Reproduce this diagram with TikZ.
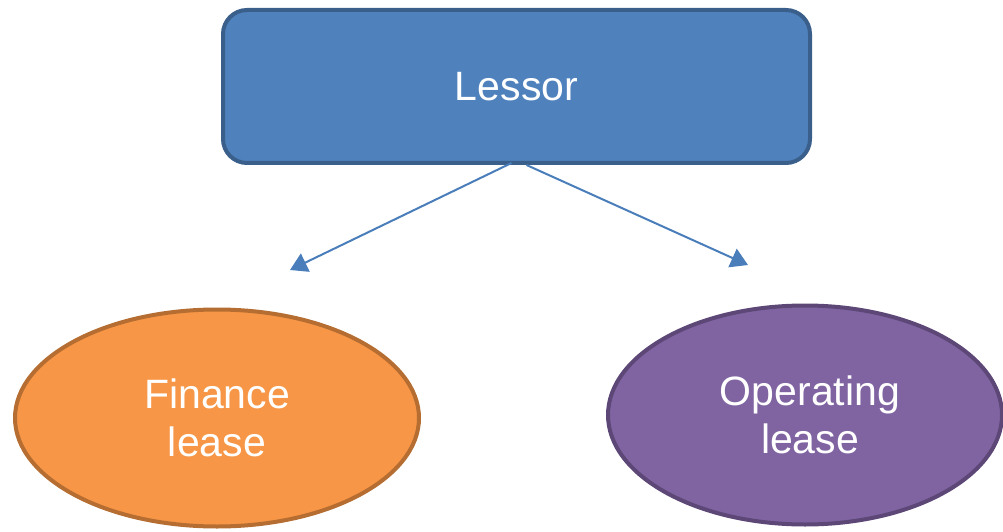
\documentclass[tikz,border=0pt]{standalone}
\usepackage{fontspec}
\setmainfont{Liberation Sans}
\usetikzlibrary{shapes.geometric,arrows.meta}
\definecolor{boxfill}{HTML}{4F81BD}
\definecolor{boxline}{HTML}{3A5F8B}
\definecolor{arrowcol}{HTML}{4A7EBB}
\definecolor{finfill}{HTML}{F79646}
\definecolor{finline}{HTML}{B66D31}
\definecolor{opfill}{HTML}{8064A2}
\definecolor{opline}{HTML}{5C4776}
\tikzset{
  x=1pt, y=1pt,
  label text/.style={text=white, font=\fontsize{41}{48}\selectfont, align=center, inner sep=0pt},
  topbox/.style={label text, draw=boxline, fill=boxfill, line width=4pt,
    rounded corners=24pt, minimum width=587pt, minimum height=153pt},
  leasenode/.style={label text, ellipse, line width=4pt},
  link/.style={draw=arrowcol, line width=2pt, -{Triangle[width=20pt,length=17pt]}}
}
\begin{document}
\begin{tikzpicture}
\useasboundingbox (0,0) rectangle (1003,531);
\node[topbox] (lessor) at (516.5,444.5) {Lessor};
\node[leasenode, draw=finline, fill=finfill, minimum width=404pt, minimum height=217pt]
  (finance) at (217,113) {Finance\\lease};
\node[leasenode, draw=opline, fill=opfill, minimum width=394pt, minimum height=219pt]
  (operating) at (805,116) {\hspace*{10pt}Operating\\\hspace*{10pt}lease};
\coordinate (ftip) at (290,261);
\coordinate (otip) at (748,266);
\draw[link] ([xshift=-5pt,yshift=2pt]lessor.south) -- (ftip);
\draw[link] ([xshift=10pt]lessor.south) -- (otip);
\end{tikzpicture}
\end{document}
